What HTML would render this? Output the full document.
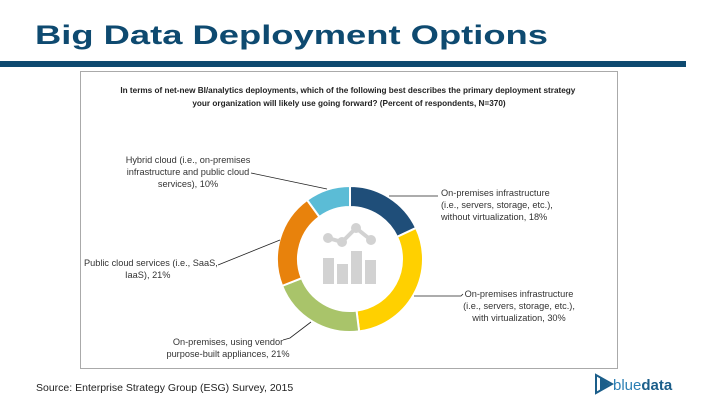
<!DOCTYPE html>
<html><head><meta charset="utf-8"><style>
body{margin:0;width:720px;height:405px;background:#fff;overflow:hidden;font-family:"Liberation Sans",sans-serif}
</style></head><body>
<svg width="720" height="405" viewBox="0 0 720 405">
<text x="35" y="44" font-size="27" font-weight="bold" fill="#0e4a70" textLength="513" lengthAdjust="spacingAndGlyphs">Big Data Deployment Options</text>
<rect x="0" y="61" width="686" height="6" fill="#0e4a70"/>
<rect x="80.5" y="71.5" width="537" height="297" fill="#fff" stroke="#aaa"/>
<text font-size="8.2" font-weight="bold" fill="#222" text-anchor="middle">
<tspan x="349" y="93">In terms of net-new BI/analytics deployments, which of the following best describes the primary deployment strategy</tspan>
<tspan x="349" y="106">your organization will likely use going forward? (Percent of respondents, N=370)</tspan></text>
<g id="donut"></g>
<g id="icon" fill="#d2d2d2">
<rect x="323" y="258" width="11" height="26"/><rect x="337" y="264" width="11" height="20"/><rect x="351" y="251" width="11" height="33"/><rect x="365" y="260" width="11" height="24"/>
<polyline points="328,238 342,242 356,228 371,240" fill="none" stroke="#d2d2d2" stroke-width="4"/>
<circle cx="328" cy="238" r="5"/><circle cx="342" cy="242" r="5"/><circle cx="356" cy="228" r="5"/><circle cx="371" cy="240" r="5"/>
</g>
<g font-size="9.2" fill="#333">
<text text-anchor="middle"><tspan x="188" y="163">Hybrid cloud (i.e., on-premises</tspan><tspan x="188" y="175">infrastructure and public cloud</tspan><tspan x="188" y="187">services), 10%</tspan></text>
<text><tspan x="441" y="196">On-premises infrastructure</tspan><tspan x="441" y="208">(i.e., servers, storage, etc.),</tspan><tspan x="441" y="220">without virtualization, 18%</tspan></text>
<text><tspan x="84" y="266">Public cloud services (i.e., SaaS,</tspan><tspan x="125" y="278">IaaS), 21%</tspan></text>
<text text-anchor="middle"><tspan x="519" y="297">On-premises infrastructure</tspan><tspan x="519" y="309">(i.e., servers, storage, etc.),</tspan><tspan x="519" y="321">with virtualization, 30%</tspan></text>
<text text-anchor="middle"><tspan x="228" y="345">On-premises, using vendor</tspan><tspan x="228" y="357">purpose-built appliances, 21%</tspan></text>
</g>
<g stroke="#222" stroke-width="0.8" fill="none">
<polyline points="251,173 327,189"/><polyline points="389,196 438,196"/><polyline points="218,265 280,240"/><polyline points="414,296 461,296 463,294"/><polyline points="283,340 290,338 311,322"/>
</g>
<text x="36" y="391" font-size="10.5" fill="#222">Source: Enterprise Strategy Group (ESG) Survey, 2015</text>
<g>
<polygon points="596,375 612,384 596,393" fill="none" stroke="#1b5e8a" stroke-width="2"/>
<polygon points="600,378 610,384 600,390" fill="#1b5e8a"/>
<text x="613" y="390" font-size="15" fill="#2b7fb4">blue<tspan font-weight="bold" fill="#1b5e8a">data</tspan></text>
</g>
</svg>
<script>
const categories=["On-prem without virtualization","On-prem with virtualization","Vendor appliances","Public cloud","Hybrid cloud"];
const values=[18,30,21,21,10];
const colors=["#1f4e79","#ffd000","#a9c46a","#e8820c","#5bbcd6"];
const cx=350,cy=259,R=73,r=52;
const g=document.getElementById('donut');
const total=values.reduce((a,b)=>a+b,0);
let a0=-Math.PI/2;
function pt(rad,a){return [cx+rad*Math.cos(a),cy+rad*Math.sin(a)];}
values.forEach((v,i)=>{
 const a1=a0+v/total*2*Math.PI;
 const large=(a1-a0)>Math.PI?1:0;
 const p1=pt(R,a0),p2=pt(R,a1),p3=pt(r,a1),p4=pt(r,a0);
 const p=document.createElementNS('http://www.w3.org/2000/svg','path');
 p.setAttribute('d',`M${p1} A${R},${R} 0 ${large} 1 ${p2} L${p3} A${r},${r} 0 ${large} 0 ${p4}Z`);
 p.setAttribute('fill',colors[i]);p.setAttribute('stroke','#fff');p.setAttribute('stroke-width','2');
 
 
 g.appendChild(p);a0=a1;
});
</script>
</body></html>
